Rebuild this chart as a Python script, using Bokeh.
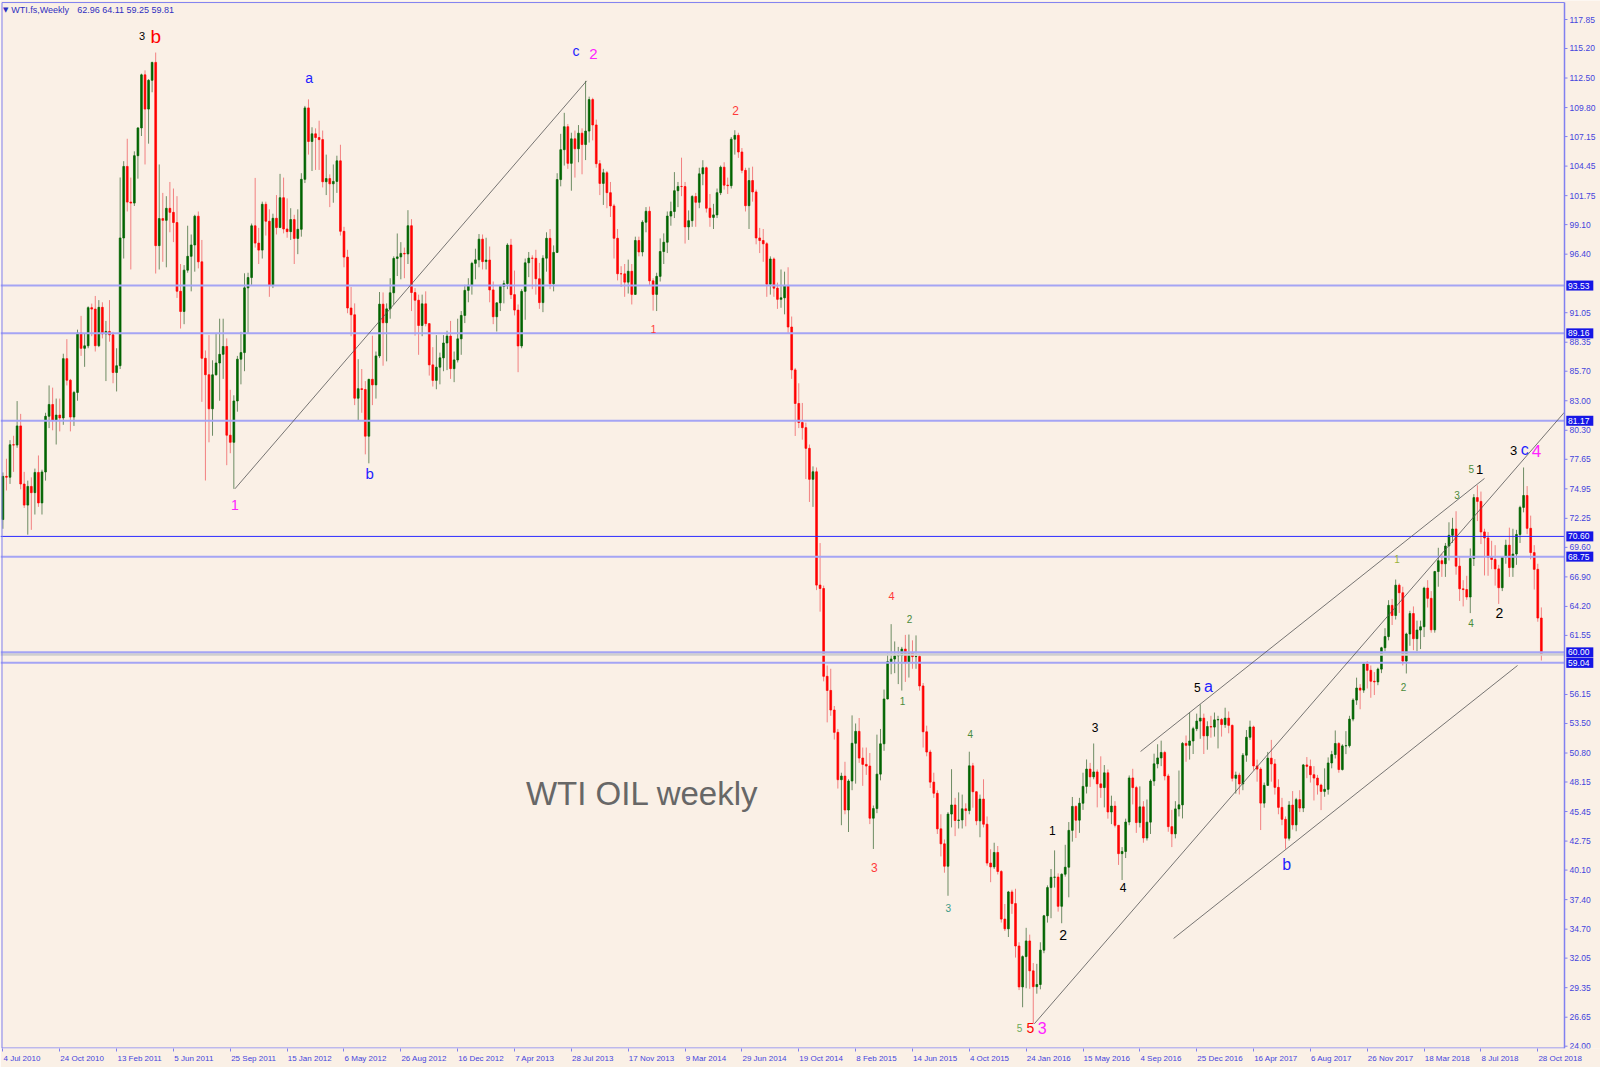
from bokeh.plotting import figure
from bokeh.models import ColumnDataSource, FixedTicker, LinearAxis
from bokeh.core.properties import value
from bokeh.embed import file_html
from bokeh.resources import INLINE

# ---------------- weekly WTI data (bar index 0 = week of 4 Jul 2010) ----------------
FIRST_OPEN = 72.14  # open of the first weekly bar; later opens = prior week's close

C10 = [76.09, 76.01, 78.98, 78.95, 80.70, 75.39, 73.46, 75.17, 74.60, 76.45, 73.66, 76.49, 81.58,
       82.66, 81.25, 81.69, 81.43, 86.85, 84.88, 81.51, 83.76, 89.19, 87.79, 88.02, 91.51, 91.38]
H10 = [76.45, 77.70, 79.40, 79.80, 82.97, 81.80, 76.50, 75.70, 76.00, 76.80, 78.00, 76.70, 81.90,
       84.40, 84.20, 83.20, 83.20, 87.30, 88.63, 85.00, 83.90, 89.50, 90.76, 89.10, 91.63, 91.88]
L10 = [71.30, 74.80, 75.40, 76.50, 78.70, 74.90, 73.20, 70.76, 71.20, 72.60, 73.30, 72.60, 75.70,
       80.50, 80.30, 79.00, 80.20, 80.80, 84.40, 80.20, 80.70, 83.00, 87.10, 86.10, 87.80, 88.90]

C11 = [88.03, 91.54, 89.11, 89.34, 89.03, 85.58, 86.20, 97.88, 104.42, 101.16, 101.07, 105.40, 107.94,
       112.79, 109.66, 112.29, 113.93, 97.18, 99.65, 99.49, 100.59, 100.22, 99.29, 93.01, 91.16, 94.94,
       96.20, 97.24, 99.87, 95.70, 86.88, 85.38, 82.26, 85.37, 86.45, 87.24, 87.96, 79.85, 79.20, 82.98,
       86.80, 87.40, 93.32, 94.26, 98.99, 97.41, 96.77, 100.96, 99.41, 93.53, 99.68, 98.83]
H11 = [92.58, 92.20, 92.00, 90.30, 92.20, 89.30, 87.80, 103.41, 104.90, 106.95, 103.40, 105.80, 108.00,
       112.90, 113.20, 112.40, 113.98, 114.83, 104.60, 102.00, 101.70, 103.00, 102.40, 101.70, 95.50, 95.40,
       99.00, 98.20, 100.00, 100.30, 97.70, 87.60, 89.00, 86.70, 89.20, 90.50, 90.50, 88.70, 84.00, 83.50,
       87.10, 89.30, 94.65, 94.70, 99.20, 103.37, 98.80, 101.20, 101.20, 100.50, 100.10, 101.80]
L11 = [87.50, 87.90, 88.70, 84.80, 88.40, 84.60, 83.85, 85.90, 96.00, 100.30, 95.00, 100.80, 103.30,
       107.20, 104.60, 106.50, 111.20, 94.63, 95.00, 95.70, 95.20, 98.40, 97.50, 92.40, 89.60, 90.00,
       94.70, 93.00, 94.80, 95.10, 82.90, 75.71, 79.20, 79.80, 85.30, 83.00, 85.00, 77.11, 78.20, 74.95,
       82.00, 84.50, 85.70, 89.20, 93.60, 97.00, 95.50, 96.00, 98.10, 92.50, 93.30, 98.20]

C12 = [101.56, 98.70, 98.46, 99.56, 97.84, 98.67, 103.24, 109.77, 106.70, 107.40, 107.06, 106.87, 103.02,
       103.31, 102.83, 103.05, 104.93, 98.49, 96.13, 91.48, 90.86, 83.23, 84.10, 84.03, 79.76, 84.96,
       84.45, 87.10, 91.83, 90.13, 91.40, 92.87, 96.01, 96.15, 96.47, 96.42, 99.00, 92.89, 92.19, 89.88,
       91.86, 90.05, 86.28, 84.86, 86.07, 86.92, 88.28, 88.91, 85.93, 86.73, 88.66, 90.80]
H12 = [103.74, 103.40, 101.50, 100.60, 100.00, 100.50, 103.80, 109.95, 110.55, 108.00, 107.90, 108.60, 107.70,
       105.50, 103.70, 104.60, 105.40, 106.40, 98.90, 96.80, 93.40, 91.90, 86.80, 85.90, 84.80, 85.00,
       88.95, 87.50, 92.94, 92.90, 91.90, 94.20, 96.20, 98.29, 97.50, 97.00, 100.42, 99.60, 93.30, 92.70,
       92.70, 93.00, 90.10, 87.90, 89.00, 87.40, 89.00, 89.40, 90.30, 87.50, 90.50, 91.20]
L12 = [98.80, 98.30, 97.90, 97.70, 95.50, 96.40, 98.00, 102.90, 105.50, 104.00, 104.10, 104.10, 102.50,
       101.80, 100.70, 101.10, 102.00, 98.10, 95.20, 91.00, 88.90, 82.60, 81.21, 81.90, 78.10, 77.28,
       82.60, 83.20, 86.90, 86.20, 86.60, 90.50, 91.80, 94.40, 94.10, 94.20, 95.50, 91.20, 88.95, 87.20,
       88.90, 89.80, 85.30, 84.30, 84.05, 84.50, 85.70, 85.80, 85.00, 84.70, 86.50, 87.20]

C13 = [93.09, 93.56, 95.56, 95.88, 97.77, 95.72, 95.86, 93.13, 90.68, 91.95, 93.45, 93.71, 97.23,
       92.70, 91.29, 88.01, 93.00, 95.61, 96.04, 96.02, 94.15, 91.97, 96.03, 97.85, 93.69, 96.56,
       103.22, 105.95, 108.05, 104.70, 106.94, 106.03, 107.46, 106.42, 107.65, 110.53, 108.21, 104.67, 102.87,
       103.84, 102.02, 100.81, 97.85, 94.61, 94.60, 93.84, 94.84, 92.72, 97.65, 96.60, 99.32, 100.32]
H13 = [93.60, 94.20, 95.70, 96.90, 98.24, 98.20, 97.90, 97.10, 93.90, 92.00, 93.60, 94.00, 97.40,
       97.80, 94.90, 91.80, 93.20, 96.00, 96.60, 96.30, 96.80, 95.60, 96.30, 98.40, 98.70, 97.20,
       103.80, 107.40, 109.32, 108.30, 107.50, 107.70, 108.20, 107.90, 112.24, 110.80, 110.70, 108.70, 105.00,
       104.20, 104.00, 103.00, 101.00, 98.70, 95.30, 95.50, 95.90, 95.50, 98.00, 98.00, 99.50, 100.70]
L13 = [90.10, 92.00, 92.70, 94.10, 95.20, 95.00, 95.00, 92.00, 90.00, 89.33, 91.20, 91.90, 93.20,
       92.30, 90.80, 85.61, 87.80, 90.40, 94.30, 93.20, 92.70, 91.40, 91.10, 94.80, 93.20, 93.00,
       96.50, 102.60, 104.50, 104.20, 102.20, 103.40, 104.80, 103.70, 105.00, 106.60, 106.80, 104.30, 101.80,
       100.90, 100.60, 99.80, 96.00, 94.00, 93.40, 92.50, 92.80, 91.80, 92.70, 96.20, 96.20, 98.40]

C14 = [93.96, 92.72, 94.37, 96.64, 97.49, 99.88, 100.30, 102.20, 102.59, 102.58, 98.89, 99.46, 101.67,
       101.14, 103.74, 104.30, 100.60, 99.76, 99.99, 102.02, 104.35, 102.71, 102.66, 106.91, 107.26, 105.74,
       104.06, 100.83, 103.13, 102.09, 97.88, 97.65, 97.35, 93.65, 95.96, 93.29, 92.27, 92.41, 93.54,
       89.74, 85.82, 82.75, 81.01, 80.54, 78.65, 75.82, 76.51, 66.15, 65.84, 57.81, 56.52, 54.73, 52.69]
H14 = [100.75, 94.20, 94.70, 97.84, 98.30, 100.30, 101.20, 103.90, 103.00, 105.22, 103.00, 100.40, 101.80,
       102.00, 104.30, 104.99, 104.40, 101.90, 101.00, 102.40, 104.50, 104.80, 103.40, 107.10, 107.73, 107.50,
       106.10, 104.30, 104.30, 104.40, 102.30, 98.80, 98.70, 97.50, 96.20, 96.10, 93.80, 95.00, 94.80,
       95.20, 90.70, 86.00, 84.60, 82.80, 81.00, 79.00, 77.00, 76.90, 69.99, 66.10, 58.80, 58.50, 55.10]
L14 = [93.50, 91.24, 91.20, 93.90, 95.50, 96.50, 99.00, 99.70, 100.70, 101.70, 97.37, 97.70, 98.90,
       98.90, 100.60, 102.70, 100.20, 98.90, 98.70, 99.70, 101.80, 102.30, 101.90, 102.40, 105.50, 105.20,
       103.80, 100.30, 98.70, 101.20, 97.30, 96.50, 95.70, 92.50, 92.70, 92.50, 91.40, 91.50, 90.90,
       89.20, 85.00, 79.78, 80.50, 79.44, 75.84, 73.75, 73.30, 65.69, 63.72, 57.35, 53.60, 54.20, 52.03]

C15 = [48.36, 48.69, 45.59, 48.24, 51.69, 52.78, 50.34, 49.76, 49.61, 44.84, 45.72, 48.87, 51.64,
       55.74, 59.15, 59.39, 59.69, 59.72, 60.30, 59.13, 59.96, 59.61, 59.63, 56.93, 52.74, 50.89,
       48.14, 47.12, 43.87, 42.50, 40.45, 45.22, 46.05, 44.63, 44.68, 45.70, 45.54, 49.63, 47.26,
       44.60, 46.59, 44.29, 40.74, 40.39, 41.71, 39.97, 35.62, 34.73, 38.10, 37.04]
H15 = [53.00, 49.00, 50.00, 48.40, 54.24, 53.50, 54.00, 51.30, 51.30, 50.80, 46.00, 52.48, 53.00,
       56.60, 59.90, 62.58, 61.00, 60.50, 60.50, 61.60, 61.63, 61.10, 61.55, 59.80, 57.20, 53.30,
       51.10, 49.00, 47.40, 45.20, 42.90, 45.40, 49.32, 46.70, 47.20, 47.00, 46.20, 50.92, 49.90,
       47.30, 47.00, 48.40, 45.00, 42.00, 42.60, 42.30, 40.10, 37.00, 38.20, 38.30]
L15 = [47.55, 44.20, 45.20, 43.58, 47.40, 48.00, 49.90, 47.80, 48.80, 44.30, 42.03, 45.30, 48.30,
       51.00, 55.70, 58.00, 58.10, 57.10, 56.51, 57.30, 57.70, 58.50, 58.50, 56.50, 51.30, 50.50,
       47.60, 46.70, 43.40, 41.35, 39.86, 37.75, 44.00, 43.20, 43.90, 43.90, 44.10, 45.20, 45.80,
       44.20, 43.10, 44.00, 40.50, 38.99, 40.20, 39.70, 35.30, 34.53, 33.98, 36.10]

C16 = [33.16, 29.42, 32.19, 33.62, 30.89, 29.44, 29.64, 32.78, 35.92, 38.50, 39.44, 39.46, 36.79,
       39.72, 40.36, 43.73, 45.92, 44.66, 46.21, 47.75, 49.33, 48.62, 49.07, 47.98, 47.64, 48.99,
       45.41, 45.95, 44.19, 41.60, 41.80, 44.49, 48.52, 47.64, 44.44, 45.88, 43.03, 44.48, 48.24,
       49.81, 50.35, 50.85, 48.70, 44.07, 43.41, 45.69, 46.06, 51.68, 51.50, 51.90, 53.02, 53.72]
H16 = [38.39, 33.50, 32.30, 34.82, 34.20, 31.60, 31.53, 33.50, 36.00, 38.70, 40.20, 41.90, 39.80,
       39.80, 42.41, 44.49, 46.78, 46.00, 46.70, 49.00, 50.21, 49.90, 51.67, 49.30, 50.50, 49.70,
       49.30, 46.90, 46.40, 44.20, 42.20, 44.80, 48.75, 49.36, 47.80, 47.75, 46.40, 46.55, 48.40,
       50.74, 51.60, 51.93, 51.00, 48.90, 45.60, 46.40, 49.20, 51.80, 52.40, 54.51, 53.20, 54.40]
L16 = [32.10, 29.13, 27.56, 29.30, 29.25, 26.05, 28.80, 29.20, 32.50, 35.30, 35.70, 38.50, 36.30,
       35.24, 39.50, 37.61, 42.70, 43.03, 43.50, 45.60, 47.10, 47.70, 48.40, 45.83, 46.70, 45.83,
       44.80, 44.30, 44.00, 40.57, 39.19, 41.20, 44.20, 46.10, 43.50, 44.00, 42.60, 42.80, 43.40,
       47.80, 49.40, 49.60, 48.30, 43.60, 42.20, 43.00, 45.00, 44.82, 50.00, 50.20, 50.71, 52.80]

C17 = [53.99, 52.37, 53.22, 53.17, 53.83, 53.86, 53.40, 53.99, 53.33, 48.49, 48.78, 47.97, 50.60,
       52.24, 53.18, 49.62, 49.33, 46.22, 47.84, 50.33, 49.80, 47.66, 45.83, 44.74, 43.01, 46.04,
       44.23, 46.54, 45.77, 49.71, 49.58, 48.82, 48.51, 47.87, 47.29, 47.48, 49.89, 50.66, 51.67,
       49.29, 51.45, 51.47, 53.90, 55.64, 56.74, 56.55, 58.95, 58.36, 57.36, 57.30, 58.47, 60.42]
H17 = [55.24, 54.40, 53.70, 54.20, 54.50, 54.20, 54.00, 54.94, 54.60, 53.40, 49.10, 49.00, 50.80,
       52.90, 53.76, 53.30, 50.20, 49.50, 48.10, 50.90, 52.00, 50.25, 48.40, 46.70, 45.00, 46.40,
       47.32, 46.70, 47.40, 49.80, 50.43, 50.20, 49.60, 48.80, 48.00, 49.40, 50.40, 51.00, 52.86,
       51.80, 51.60, 52.80, 54.20, 55.80, 57.69, 57.10, 59.05, 59.20, 58.80, 58.20, 58.60, 60.51]
L17 = [52.10, 50.71, 51.10, 52.20, 52.30, 51.22, 52.30, 53.10, 52.60, 48.20, 47.09, 47.01, 47.40,
       50.00, 52.00, 49.20, 48.18, 43.76, 45.80, 47.80, 48.18, 47.00, 45.20, 44.20, 42.05, 42.80,
       43.80, 43.65, 45.40, 45.40, 48.50, 48.10, 46.46, 47.00, 45.58, 46.80, 47.00, 49.40, 50.30,
       49.00, 49.20, 50.70, 51.30, 53.70, 55.20, 54.80, 56.30, 56.70, 55.85, 56.10, 57.00, 58.10]

C18 = [61.44, 64.30, 63.37, 66.14, 65.45, 59.20, 61.68, 63.55, 61.25, 62.04, 62.34, 65.88, 64.94,
       62.06, 67.39, 68.38, 68.10, 69.72, 70.70, 71.28, 67.88, 65.81, 65.74, 65.06, 68.58, 74.15,
       73.80, 71.01, 70.46, 68.69, 68.49, 67.63, 65.91, 68.72, 69.80, 67.75, 68.99, 70.78, 73.25,
       74.34, 71.34, 69.12, 67.59, 63.14, 59.81]
H18 = [62.21, 64.77, 64.89, 66.66, 66.30, 66.00, 61.80, 63.80, 64.20, 62.90, 62.90, 66.00, 66.60,
       65.60, 67.45, 69.56, 69.00, 70.00, 71.89, 72.30, 72.90, 68.70, 66.60, 67.00, 69.50, 74.46,
       75.27, 74.70, 71.30, 71.00, 70.20, 69.80, 68.00, 68.80, 70.30, 71.40, 71.30, 71.20, 73.40,
       76.90, 75.20, 72.50, 69.80, 68.10, 64.11]
L18 = [60.10, 61.10, 62.50, 63.00, 63.60, 58.80, 58.07, 60.60, 60.20, 60.10, 60.30, 61.40, 64.10,
       61.80, 61.80, 66.00, 66.90, 66.90, 68.40, 70.00, 67.10, 64.70, 64.20, 64.80, 63.59, 67.90,
       72.00, 69.90, 67.03, 67.00, 67.60, 66.10, 64.43, 65.60, 68.10, 66.90, 66.90, 68.00, 70.00,
       72.80, 70.80, 68.50, 65.74, 62.80, 59.25]

CLOSE = C10 + C11 + C12 + C13 + C14 + C15 + C16 + C17 + C18
HIGH = H10 + H11 + H12 + H13 + H14 + H15 + H16 + H17 + H18
LOW = L10 + L11 + L12 + L13 + L14 + L15 + L16 + L17 + L18
OPEN = [FIRST_OPEN] + CLOSE[:-1]

X_LABELS = ["4 Jul 2010", "24 Oct 2010", "13 Feb 2011", "5 Jun 2011", "25 Sep 2011", "15 Jan 2012",
            "6 May 2012", "26 Aug 2012", "16 Dec 2012", "7 Apr 2013", "28 Jul 2013", "17 Nov 2013",
            "9 Mar 2014", "29 Jun 2014", "19 Oct 2014", "8 Feb 2015", "14 Jun 2015", "4 Oct 2015",
            "24 Jan 2016", "15 May 2016", "4 Sep 2016", "25 Dec 2016", "16 Apr 2017", "6 Aug 2017",
            "26 Nov 2017", "18 Mar 2018", "8 Jul 2018", "28 Oct 2018"]
BARS_PER_LABEL = 16

Y_TICKS = [24.00, 26.65, 29.35, 32.05, 34.70, 37.40, 40.10, 42.75, 45.45, 48.15, 50.80, 53.50, 56.15,
           61.55, 64.20, 66.90, 69.60, 72.25, 74.95, 77.65, 80.30, 83.00, 85.70, 88.35, 91.05, 96.40,
           99.10, 101.75, 104.45, 107.15, 109.80, 112.50, 115.20, 117.85]

LEVELS = [93.53, 89.16, 81.17, 70.60, 68.75, 60.00, 59.04]
STRONG_LEVEL = 70.60
BID = 59.81
HEADER_SYMBOL = "WTI.fs,Weekly"
HEADER_OHLC = "62.96 64.11 59.25 59.81"

# trend lines (bar index, price)
TL_X0 = [65.3, 290.3, 320.2, 329.5]
TL_Y0 = [74.95, 26.05, 50.94, 33.85]
TL_X1 = [164.3, 439.5, 417.0, 426.3]
TL_Y1 = [112.24, 81.95, 75.90, 58.80]

# wave labels
RED, BLUE, MAG, BLK = "#ff0000", "#1f1fff", "#ff22ff", "#000000"
GRN, TEAL, OLV, LRED, LGRN = "#4a8c3a", "#3a9a86", "#9ab23a", "#ff3a3a", "#6aaa5a"
ANN_TEXT = ["3", "b", "a", "1", "b", "c", "2", "2", "1", "4", "2", "1", "3", "3", "4", "5", "5", "3",
            "1", "2", "3", "4", "5", "a", "b", "1", "2", "3", "5", "1", "4", "2", "3", "c", "4"]
ANN_X = [39.2, 43.0, 86.2, 65.3, 103.2, 161.3, 166.2, 206.2, 183.1, 250.1, 255.2, 253.2, 245.3, 266.1,
         272.3, 286.1, 289.2, 292.5, 295.4, 298.4, 307.4, 315.3, 336.2, 339.3, 361.3, 392.4, 394.2,
         409.3, 413.3, 415.6, 413.2, 421.2, 425.2, 428.3, 431.6]
ANN_Y = [116.30, 116.30, 112.46, 73.43, 76.35, 114.93, 114.74, 109.53, 89.55, 65.11, 63.04, 55.54,
         40.34, 36.60, 52.50, 25.62, 25.62, 25.62, 43.72, 34.21, 53.10, 38.47, 56.79, 56.88, 40.61,
         68.58, 56.88, 74.43, 76.72, 76.72, 62.69, 63.60, 78.45, 78.54, 78.45]
ANN_COLOR = [BLK, RED, BLUE, MAG, BLUE, BLUE, MAG, LRED, LRED, LRED, GRN, GRN, LRED, TEAL, GRN, LGRN,
             RED, MAG, BLK, BLK, BLK, BLK, BLK, BLUE, BLUE, OLV, GRN, GRN, GRN, BLK, GRN, BLK, BLK,
             BLUE, MAG]
ANN_SIZE = [11, 19, 14, 14, 15, 14, 15, 12, 10, 11, 10, 10, 12, 10, 10, 10, 14, 16, 12, 14, 12, 12,
            12, 16, 16, 10, 10, 10, 10, 13, 10, 14, 13, 16, 17]

CAPTION = "WTI OIL weekly"
CAPTION_AT = (147.2, 47.1)   # bar index, price of the text baseline

# ---------------- layout constants ----------------
BG = "#FAF0E6"
AXIS_COL = "#8080f0"
LABEL_COL = "#4444dd"
FIG_W, FIG_H, BOTTOM = 1600, 1067, 19
X_START, AXIS_X, X_END = -0.675, 439.52, 449.65     # price scale sits right of AXIS_X
Y_START, Y_TOP_BORDER, Y_END = 23.79, 119.40, 119.587
PX = FIG_W / (X_END - X_START)                     # pixels per bar
PY = (FIG_H - BOTTOM) / (Y_END - Y_START)          # pixels per dollar

p = figure(width=FIG_W, height=FIG_H, x_range=(X_START, X_END), y_range=(Y_START, Y_END),
           output_backend="svg", toolbar_location=None, title=None,
           min_border_left=0, min_border_top=0, min_border_right=0, min_border_bottom=BOTTOM,
           background_fill_color=BG, border_fill_color=BG)
p.grid.visible = False
p.outline_line_color = None
p.yaxis.visible = False

# bottom axis: tick marks at bar positions
xa = p.xaxis[0]
x_ticks = [BARS_PER_LABEL * i for i in range(len(X_LABELS))]
xa.ticker = FixedTicker(ticks=x_ticks)
xa.major_label_overrides = {t: "" for t in x_ticks}
xa.major_label_text_font_size = "0px"
xa.major_label_standoff = 0
xa.axis_line_color = None
xa.major_tick_line_color = AXIS_COL
xa.minor_tick_line_color = None
xa.major_tick_in = 0
xa.major_tick_out = 3

# date labels, left-aligned at their tick (MT4 style)
AW = {" ": 278, "A": 667, "D": 722, "F": 611, "J": 500, "M": 833, "N": 722, "O": 778, "S": 667,
      "a": 556, "b": 556, "c": 500, "e": 556, "g": 556, "l": 222, "n": 556, "o": 556, "p": 556,
      "r": 333, "t": 278, "u": 556, "v": 500, "y": 500}
LBL_FS = 8


def text_w(s, fs):
    return sum(AW.get(ch, 556) for ch in s) / 1000.0 * fs


lab_pos = [round(t + (text_w(lab, LBL_FS) / 2 + 0.6) / PX, 3) for t, lab in zip(x_ticks, X_LABELS)]
xb = LinearAxis(ticker=FixedTicker(ticks=lab_pos),
                major_label_overrides={pos: lab for pos, lab in zip(lab_pos, X_LABELS)})
xb.axis_line_color = None
xb.major_tick_line_color = None
xb.minor_tick_line_color = None
xb.major_tick_in = 0
xb.major_tick_out = 0
xb.major_label_standoff = 2
xb.major_label_text_font = "Liberation Sans"
xb.major_label_text_font_size = f"{LBL_FS}px"
xb.major_label_text_color = LABEL_COL
p.add_layout(xb, "below")

# candles
n = len(CLOSE)
xs = list(range(n))
hi = [max(h, o, c) for h, o, c in zip(HIGH, OPEN, CLOSE)]
lo = [min(l, o, c) for l, o, c in zip(LOW, OPEN, CLOSE)]
up = [c >= o for o, c in zip(OPEN, CLOSE)]
src = ColumnDataSource(dict(
    x=xs, high=hi, low=lo,
    top=[max(o, c) for o, c in zip(OPEN, CLOSE)],
    bottom=[min(o, c) for o, c in zip(OPEN, CLOSE)],
    body=["#006400" if u else "#ff0000" for u in up],
    wick=["#6e8c64" if u else "#f28080" for u in up],
))
p.segment(x0="x", y0="low", x1="x", y1="high", source=src, line_color="wick", line_width=1)
p.vbar(x="x", width=0.5, top="top", bottom="bottom", source=src,
       fill_color="body", line_color="body", line_width=0.7)

# horizontal levels (end at the price scale)
k = len(LEVELS)
p.segment(x0=[X_START], y0=[BID], x1=[AXIS_X], y1=[BID], line_color="#cfcfcf", line_width=2.5)
p.segment(x0=[X_START] * k, y0=LEVELS, x1=[AXIS_X] * k, y1=LEVELS,
          line_color=["#2a2aff" if lv == STRONG_LEVEL else "#a4a4f4" for lv in LEVELS],
          line_width=[1 if lv == STRONG_LEVEL else 2 for lv in LEVELS])

# trend lines
p.segment(x0=TL_X0, y0=TL_Y0, x1=TL_X1, y1=TL_Y1, line_color="#555555", line_width=1, line_alpha=0.8)

# wave labels
ann = ColumnDataSource(dict(x=ANN_X, y=ANN_Y, text=ANN_TEXT, color=ANN_COLOR,
                            size=[f"{s}px" for s in ANN_SIZE]))
p.text(x="x", y="y", text="text", source=ann, text_color="color", text_font_size="size",
       text_align="center", text_baseline="middle", text_font=value("Liberation Sans"))

# chart caption
p.text(x=[CAPTION_AT[0]], y=[CAPTION_AT[1]], text=[CAPTION], text_color="#676767",
       text_font_size="33px", text_align="left", text_baseline="alphabetic",
       text_font=value("Liberation Sans"))

# header
p.text(x=[0.8], y=[118.76], text=["\u25BC"], text_color="#2f2fc0", text_font_size="7px",
       text_align="center", text_baseline="middle", text_font=value("DejaVu Sans"))
p.text(x=[2.35], y=[118.76], text=[HEADER_SYMBOL], text_color="#2f2fc0", text_font_size="9px",
       text_align="left", text_baseline="middle", text_font=value("Liberation Sans"))
p.text(x=[20.9], y=[118.76], text=[HEADER_OHLC], text_color="#2f2fc0", text_font_size="9px",
       text_align="left", text_baseline="middle", text_font=value("Liberation Sans"))

# chart frame: left, top, bottom border and the price-scale line
half_y = 0.5 / PY
LEFT_BORDER = -0.25
p.segment(x0=[LEFT_BORDER, LEFT_BORDER, LEFT_BORDER, AXIS_X],
          y0=[Y_START, Y_TOP_BORDER, Y_START + half_y, Y_START],
          x1=[LEFT_BORDER, AXIS_X, AXIS_X, AXIS_X],
          y1=[Y_TOP_BORDER, Y_TOP_BORDER, Y_START + half_y, Y_TOP_BORDER],
          line_color=AXIS_COL, line_width=[1, 1, 1, 1.5])

# price scale: ticks, labels
m = len(Y_TICKS)
p.segment(x0=[AXIS_X] * m, y0=Y_TICKS, x1=[AXIS_X + 3 / PX] * m, y1=Y_TICKS,
          line_color=AXIS_COL, line_width=1)
p.text(x=[AXIS_X + 5 / PX] * m, y=Y_TICKS, text=[f"{v:.2f}" for v in Y_TICKS],
       text_color=LABEL_COL, text_font_size="8.5px", text_align="left", text_baseline="middle",
       text_font=value("Liberation Sans"))

# price boxes for the horizontal levels
p.rect(x=[AXIS_X + (1.7 + 13.6) / PX] * k, y=LEVELS, width=27, height=10,
       width_units="screen", height_units="screen", fill_color="#1616e6", line_color=None)
p.text(x=[AXIS_X + 3.6 / PX] * k, y=LEVELS, text=[f"{lv:.2f}" for lv in LEVELS],
       text_color="white", text_font_size="8.5px", text_align="left", text_baseline="middle",
       text_font=value("Liberation Sans"))

open("out.html", "w").write(file_html(p, INLINE))
